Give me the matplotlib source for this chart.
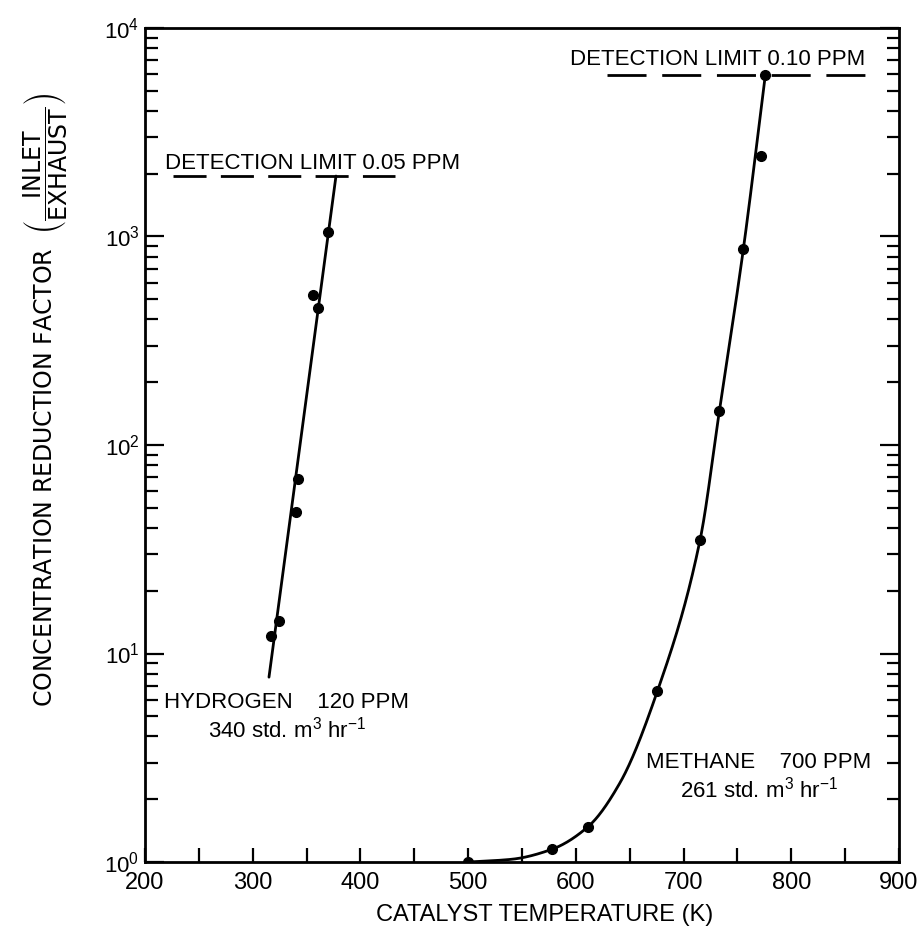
import numpy as np
import matplotlib
matplotlib.use("Agg")
import matplotlib.pyplot as plt
from matplotlib.ticker import LogLocator, FixedLocator, NullFormatter

# ---------------- data ----------------
h2_T = [316.7, 324.4, 339.9, 341.8, 356.3, 360.9, 369.6]
h2_R = [12.1, 14.3, 47.6, 68.5, 524, 455, 1055]
h2_fit_T = [315.1, 377.3]
h2_fit_R = [7.7, 1950]

ch4_T = [500, 577.6, 611.5, 675.7, 715.3, 733.2, 755.5, 772.0, 775.9]
ch4_R = [1.0, 1.15, 1.48, 6.6, 35, 145, 870, 2430, 5950]
ch4_fit_T = [500, 540, 577.6, 611.5, 641, 675.7, 715.3, 733.2, 755.5, 775.9]
ch4_fit_R = [1.0, 1.03, 1.15, 1.48, 2.4, 6.6, 35, 145, 870, 5950]

h2_limit = 1950
h2_limit_span = [226, 432]
ch4_limit = 5950
ch4_limit_span = [629, 868.5]

x_ticks = [200, 300, 400, 500, 600, 700, 800, 900]
x_minor = [250, 350, 450, 550, 650, 750, 850]
y_ticks = [1, 10, 100, 1000, 10000]

SANS = "Liberation Sans"
plt.rcParams["font.family"] = [SANS, "DejaVu Sans"]
plt.rcParams["mathtext.fontset"] = "custom"
plt.rcParams["mathtext.rm"] = SANS
plt.rcParams["mathtext.it"] = SANS
plt.rcParams["mathtext.bf"] = SANS
plt.rcParams["lines.scale_dashes"] = False


def smooth(xs, ys, n=400):
    """Monotone cubic (Fritsch-Carlson) through the read curve knots, in log space."""
    x = np.asarray(xs, float)
    y = np.log10(np.asarray(ys, float))
    h = np.diff(x)
    d = np.diff(y) / h
    m = np.zeros_like(x)
    m[0], m[-1] = d[0], d[-1]
    for i in range(1, len(x) - 1):
        if d[i - 1] * d[i] <= 0:
            m[i] = 0
        else:
            w1 = 2 * h[i] + h[i - 1]
            w2 = h[i] + 2 * h[i - 1]
            m[i] = (w1 + w2) / (w1 / d[i - 1] + w2 / d[i])
    xx = np.linspace(x[0], x[-1], n)
    idx = np.clip(np.searchsorted(x, xx) - 1, 0, len(x) - 2)
    t = (xx - x[idx]) / h[idx]
    h00 = 2 * t**3 - 3 * t**2 + 1
    h10 = t**3 - 2 * t**2 + t
    h01 = -2 * t**3 + 3 * t**2
    h11 = t**3 - t**2
    yy = h00 * y[idx] + h10 * h[idx] * m[idx] + h01 * y[idx + 1] + h11 * h[idx] * m[idx + 1]
    return xx, 10 ** yy


fig = plt.figure(figsize=(9.2, 9.38), dpi=100)
ax = fig.add_axes([145 / 920, 76 / 938, 754 / 920, 834 / 938])
ax.set_yscale("log")
ax.set_xlim(200, 900)
ax.set_ylim(1, 10000)

# curves
ax.plot(h2_fit_T, h2_fit_R, color="black", lw=2.0, solid_capstyle="round")
cx, cy = smooth(ch4_fit_T, ch4_fit_R)
ax.plot(cx, cy, color="black", lw=2.0)
ax.plot(h2_T, h2_R, "o", color="black", ms=7)
ax.plot(ch4_T, ch4_R, "o", color="black", ms=7)

# detection limits
ax.plot(h2_limit_span, [h2_limit, h2_limit], color="black", lw=2.0,
        linestyle=(0, (23.8, 10.3)))
ax.plot(ch4_limit_span, [ch4_limit, ch4_limit], color="black", lw=2.0,
        linestyle=(0, (28.1, 11.3)))
ax.annotate("DETECTION LIMIT 0.05 PPM", xy=(h2_limit_span[0], h2_limit), xytext=(-6, 5),
            textcoords="offset points", ha="left", va="baseline", fontsize=16)
ax.annotate("DETECTION LIMIT 0.10 PPM", xy=(ch4_limit_span[1], ch4_limit), xytext=(0, 7.5),
            textcoords="offset points", ha="right", va="baseline", fontsize=16)

# series labels
ax.text(0.188, 0.1847, "HYDROGEN    120 PPM", transform=ax.transAxes, ha="center",
        va="baseline", fontsize=16)
ax.text(0.188, 0.1487, r"340 std. m$^{3}$ hr$^{-1}$", transform=ax.transAxes, ha="center",
        va="baseline", fontsize=16)
ax.text(0.8143, 0.1127, "METHANE    700 PPM", transform=ax.transAxes, ha="center",
        va="baseline", fontsize=16)
ax.text(0.8143, 0.0779, r"261 std. m$^{3}$ hr$^{-1}$", transform=ax.transAxes, ha="center",
        va="baseline", fontsize=16)

# axes styling
for s in ax.spines.values():
    s.set_linewidth(2.0)
ax.xaxis.set_major_locator(FixedLocator(x_ticks))
ax.xaxis.set_minor_locator(FixedLocator(x_minor))
ax.set_xticklabels([str(v) for v in x_ticks])
ax.yaxis.set_major_locator(FixedLocator(y_ticks))
ax.set_yticklabels([r"$10^{%d}$" % int(np.log10(v)) for v in y_ticks])
ax.yaxis.set_minor_locator(LogLocator(base=10, subs=np.arange(2, 10)))
ax.yaxis.set_minor_formatter(NullFormatter())

ax.tick_params(axis="x", which="both", direction="in", length=10, width=1.6,
               top=False, bottom=True, labelsize=17, pad=7)
ax.tick_params(axis="y", which="major", direction="in", length=14, width=1.6,
               left=True, right=True, labelsize=16, pad=4)
ax.tick_params(axis="y", which="minor", direction="in", length=9, width=1.6,
               left=True, right=True)

ax.set_xlabel("CATALYST TEMPERATURE (K)", fontsize=17)
ax.xaxis.set_label_coords(0.53, -0.05)

fig.text(45 / 920, 1 - 400 / 938,
         r"CONCENTRATION REDUCTION FACTOR  $\left(\dfrac{\mathrm{INLET}}{\mathrm{EXHAUST}}\right)$",
         rotation=90, ha="center", va="center", fontsize=17, family="DejaVu Sans",
         math_fontfamily="dejavusans")

fig.savefig("out.png", dpi=100)
